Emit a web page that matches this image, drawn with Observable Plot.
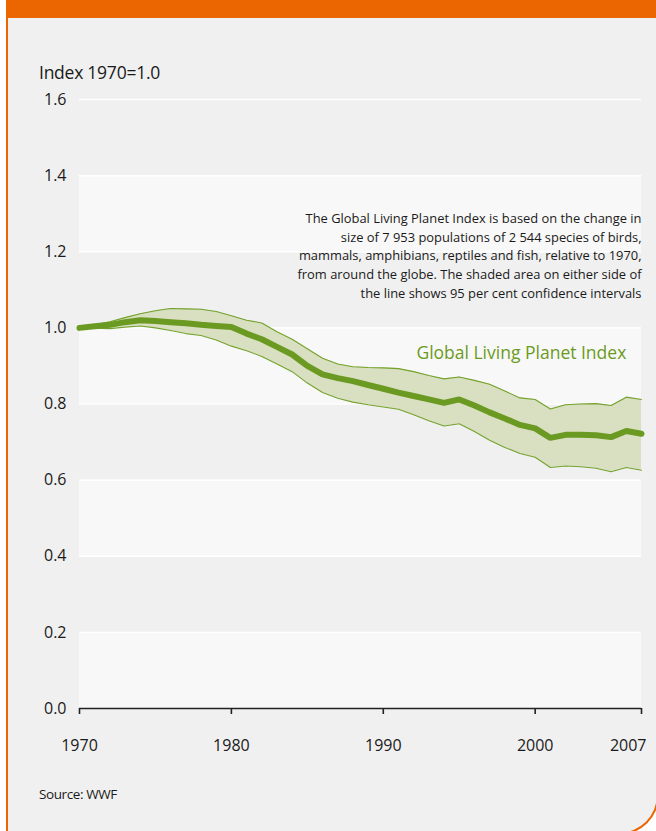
<!DOCTYPE html>
<html>
<head>
<meta charset="utf-8">
<script src="https://cdn.jsdelivr.net/npm/d3@7"></script>
<script src="https://cdn.jsdelivr.net/npm/@observablehq/plot@0.6"></script>
<style>
  html, body { margin: 0; padding: 0; background: #ffffff; width: 656px; height: 831px; overflow: hidden; }
  .frame {
    position: absolute; left: 6px; top: 0; width: 653px; height: 835px; box-sizing: border-box;
    background: #f0f0f0; border: 2px solid #eb6600; border-top: 18px solid #eb6600;
    border-bottom-right-radius: 40px;
  }
  .ylabel { position: absolute; left: 39px; top: 60px; font-family: "Open Sans", sans-serif; font-size: 17.5px; color: #1a1a1a; letter-spacing: -0.25px; white-space: nowrap; }
  .source { position: absolute; left: 39px; top: 785px; font-family: "Open Sans", sans-serif; font-size: 13.5px; color: #1a1a1a; letter-spacing: -0.4px; white-space: nowrap; }
  #chart { position: absolute; left: 0; top: 85px; }
</style>
</head>
<body>
<div class="frame"></div>
<div class="ylabel">Index 1970=1.0</div>
<div id="chart"></div>
<div class="source">Source: WWF</div>
<script>
const years = [1970,1971,1972,1973,1974,1975,1976,1977,1978,1979,1980,1981,1982,1983,1984,1985,1986,1987,1988,1989,1990,1991,1992,1993,1994,1995,1996,1997,1998,1999,2000,2001,2002,2003,2004,2005,2006,2007];
const indexValues = [1.000,1.004,1.008,1.015,1.020,1.018,1.015,1.012,1.008,1.005,1.002,0.985,0.970,0.950,0.930,0.900,0.878,0.868,0.860,0.850,0.840,0.830,0.821,0.812,0.803,0.812,0.796,0.778,0.762,0.745,0.736,0.711,0.719,0.719,0.718,0.713,0.729,0.722];
const lowerValues = [1.000,0.999,0.998,1.002,1.005,1.000,0.993,0.985,0.980,0.968,0.952,0.940,0.925,0.905,0.885,0.855,0.830,0.815,0.805,0.798,0.792,0.786,0.772,0.756,0.742,0.748,0.728,0.705,0.686,0.670,0.660,0.633,0.637,0.635,0.631,0.622,0.633,0.626];
const upperValues = [1.000,1.008,1.016,1.027,1.037,1.045,1.051,1.050,1.049,1.043,1.032,1.020,1.013,0.990,0.970,0.945,0.920,0.905,0.898,0.896,0.895,0.893,0.885,0.875,0.866,0.871,0.862,0.852,0.834,0.816,0.812,0.787,0.798,0.800,0.801,0.796,0.818,0.812];
const yTicks = [0, 0.2, 0.4, 0.6, 0.8, 1.0, 1.2, 1.4, 1.6];
const xTicks = [1970, 1980, 1990, 2000, 2007];
const lightBands = [[0, 0.2], [0.4, 0.6], [0.8, 1.0], [1.2, 1.4]];
const seriesLabel = "Global Living Planet Index";
const noteLines = [
  "The Global Living Planet Index is based on the change in",
  "size of 7 953 populations of 2 544 species of birds,",
  "mammals, amphibians, reptiles and fish, relative to 1970,",
  "from around the globe. The shaded area on either side of",
  "the line shows 95 per cent confidence intervals"
];

const data = years.map((year, i) => ({year, value: indexValues[i], lo: lowerValues[i], hi: upperValues[i]}));
const bands = lightBands.map(([a, b]) => ({y1: a, y2: b}));
const lastYear = xTicks[xTicks.length - 1];

const green = "#6b9a22";
const font = "'Open Sans', sans-serif";

const chart = Plot.plot({
  width: 656,
  height: 690,
  marginTop: 14,
  marginBottom: 67,
  marginLeft: 79,
  marginRight: 15,
  style: {background: "transparent", fontFamily: font, color: "#1a1a1a"},
  x: {domain: [1970, 2007]},
  y: {domain: [0, 1.6]},
  marks: [
    Plot.rect(bands, {y1: "y1", y2: "y2", fill: "#f8f8f8"}),
    Plot.ruleY(yTicks.slice(1), {stroke: "#ffffff", strokeWidth: 1.5}),
    Plot.areaY(data, {x: "year", y1: "lo", y2: "hi", fill: "#d9dfc1"}),
    Plot.line(data, {x: "year", y: "lo", stroke: "#74a22c", strokeWidth: 1.1}),
    Plot.line(data, {x: "year", y: "hi", stroke: "#74a22c", strokeWidth: 1.1}),
    Plot.line(data, {x: "year", y: "value", stroke: green, strokeWidth: 6, strokeLinejoin: "miter"}),
    Plot.ruleY([0], {stroke: "#222", strokeWidth: 1.6}),
    Plot.axisY({ticks: yTicks, tickSize: 0, tickPadding: 13, tickFormat: d3.format(".1f"), fontSize: 16, label: null, fill: "#1a1a1a"}),
    Plot.axisX({ticks: xTicks, tickSize: 6, tickFormat: () => "", label: null, stroke: "#222", strokeWidth: 1.6}),
    Plot.text(xTicks.slice(0, -1), {x: d => d, y: 0, text: d => String(d), dy: 37, fontSize: 16, fill: "#1a1a1a"}),
    Plot.text([lastYear], {x: d => d, y: 0, text: d => String(d), textAnchor: "end", dx: 5, dy: 37, fontSize: 16, fill: "#1a1a1a"}),
    Plot.text([noteLines.join("\n")], {x: 2007, y: 1.312, text: d => d, textAnchor: "end", lineAnchor: "top", lineHeight: 1.47, fontSize: 12.9, fill: "#1a1a1a"}),
    Plot.text([seriesLabel], {x: 2006, y: 0.933, text: d => d, textAnchor: "end", fontSize: 17.5, fill: "#6b9a22"})
  ]
});
document.getElementById("chart").appendChild(chart);
</script>
</body>
</html>
